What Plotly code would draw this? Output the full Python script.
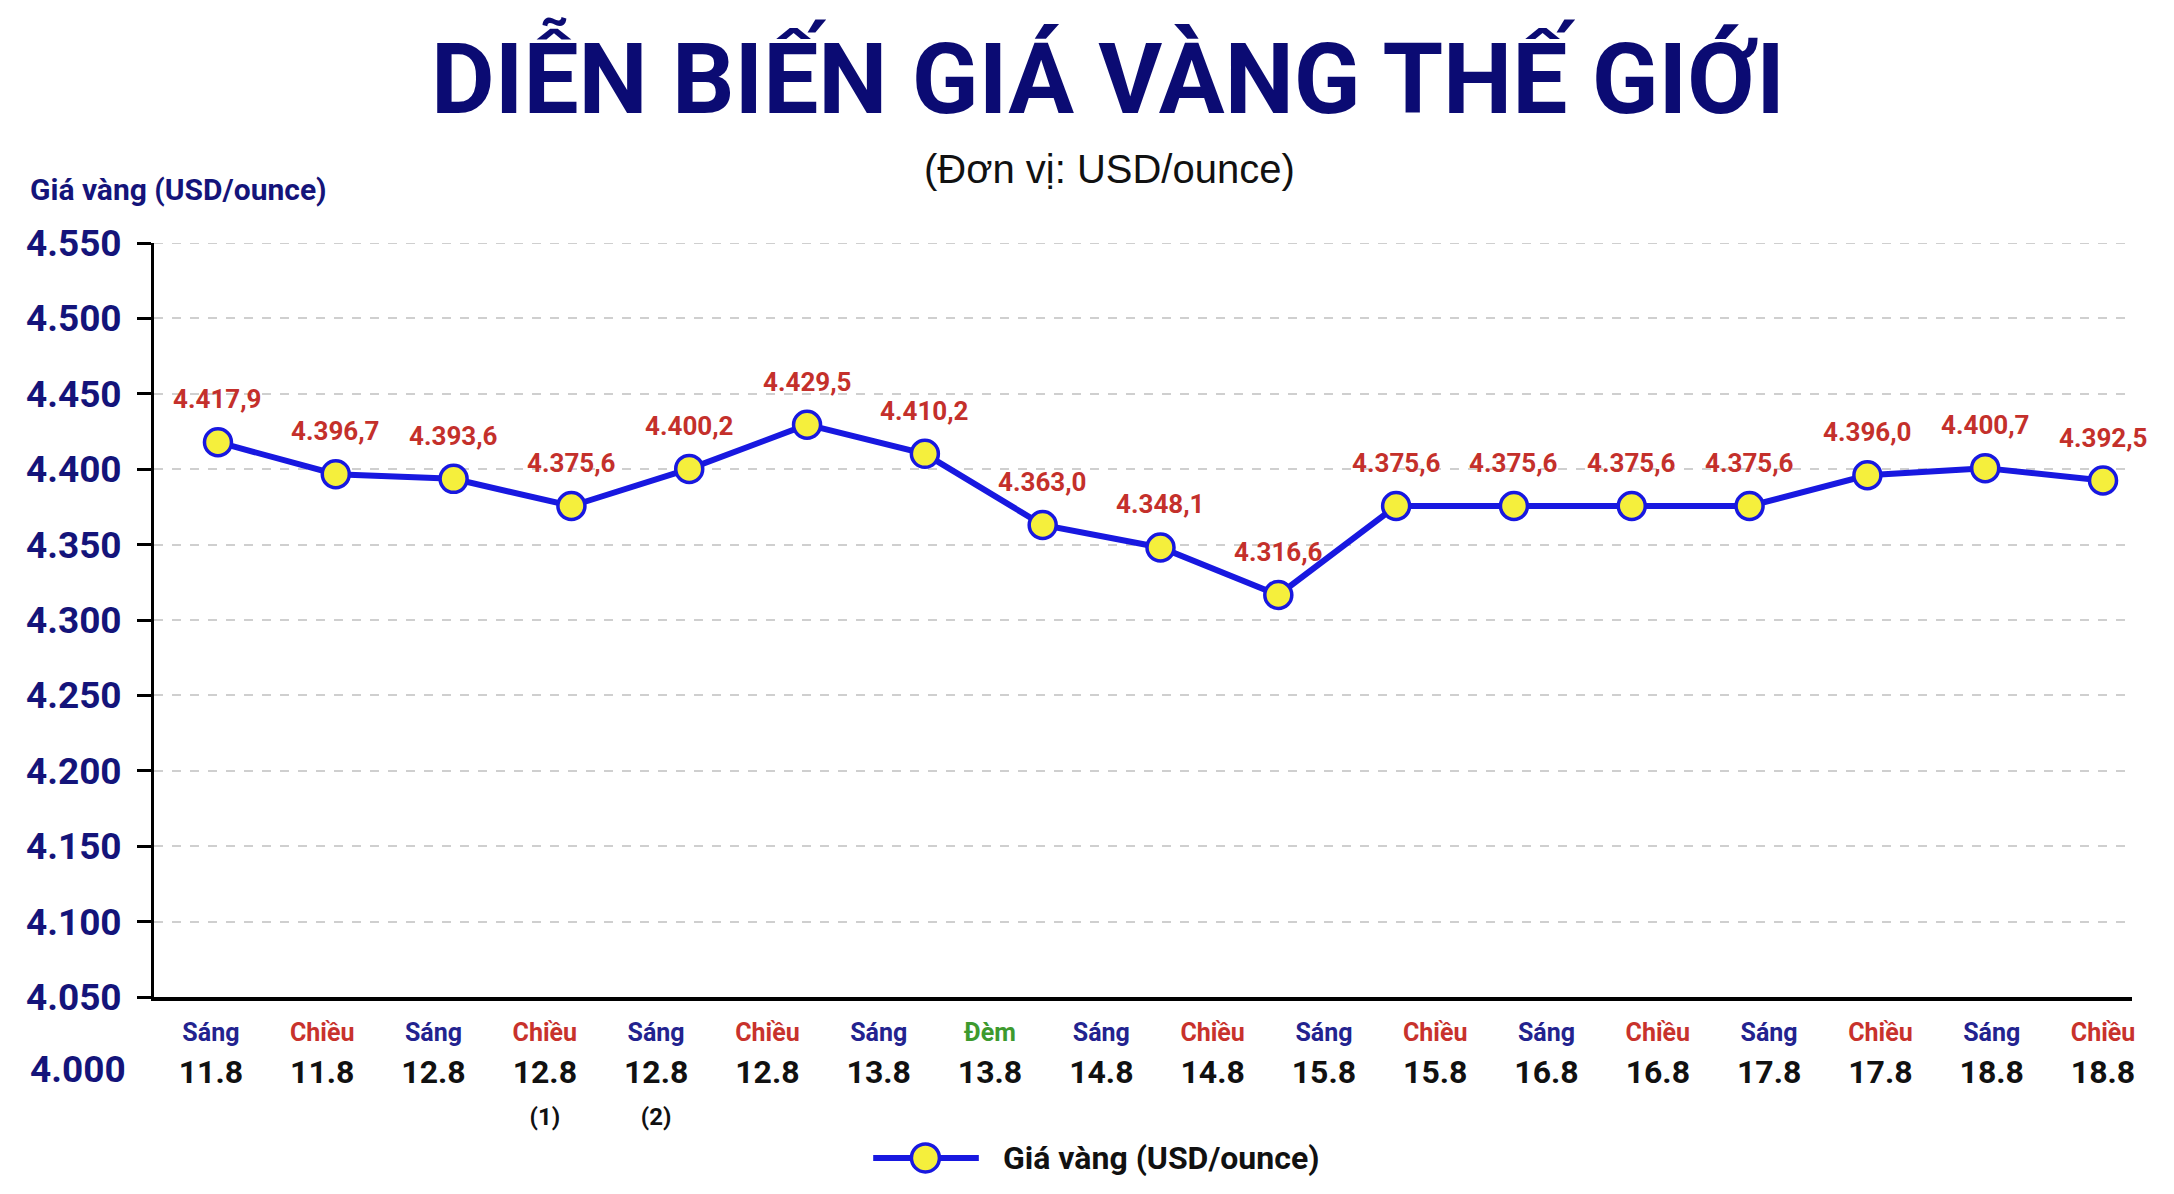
import plotly.graph_objects as go

# sessions (x-axis labels)
sessions = ["Sáng", "Chiều", "Sáng", "Chiều", "Sáng", "Chiều", "Sáng", "Đèm", "Sáng",
            "Chiều", "Sáng", "Chiều", "Sáng", "Chiều", "Sáng", "Chiều", "Sáng", "Chiều"]
dates = ["11.8", "11.8", "12.8", "12.8", "12.8", "12.8", "13.8", "13.8", "14.8",
         "14.8", "15.8", "15.8", "16.8", "16.8", "17.8", "17.8", "18.8", "18.8"]
notes = ["", "", "", "(1)", "(2)", "", "", "", "", "", "", "", "", "", "", "", "", ""]

# gia vang (USD/ounce)
prices = [4417.9, 4396.7, 4393.6, 4375.6, 4400.2, 4429.5, 4410.2, 4363.0, 4348.1,
          4316.6, 4375.6, 4375.6, 4375.6, 4375.6, 4396.0, 4400.7, 4392.5]

y_ticks = [4050, 4100, 4150, 4200, 4250, 4300, 4350, 4400, 4450, 4500, 4550]

FONT = "Roboto, DejaVu Sans Condensed, sans-serif"
NAVY = "#14147a"
RED = "#c4302b"
BLUE = "#1818e0"
YELLOW = "#f5ef3c"
GRID = "#cfcfcf"
session_colors = {"Sáng": "#23238f", "Chiều": "#c8322c", "Đèm": "#3d9a2e"}


def vn_num(v, dec=1):
    s = f"{v:,.{dec}f}"
    return s.replace(",", "X").replace(".", ",").replace("X", ".")


xs = list(range(len(prices)))
n_lab = len(sessions)
first_tick = -0.06
tickvals = [first_tick + i * (len(prices) - 1 - first_tick) / (n_lab - 1) for i in range(n_lab)]
ticktext = []
for s, d, n in zip(sessions, dates, notes):
    t = f"<span style='font-size:25px;color:{session_colors[s]}'><b>{s}</b></span><br><b>{d}</b>"
    if n:
        t += f"<br><span style='font-size:24px'><b>{n}</b></span>"
    ticktext.append(t)

fig = go.Figure()
fig.add_trace(go.Scatter(
    x=xs, y=prices, mode="lines+markers",
    line=dict(color=BLUE, width=6),
    marker=dict(size=27, color=YELLOW, line=dict(color=BLUE, width=3.5)),
    showlegend=False,
))

# nhan gia tri
for x, v in zip(xs, prices):
    fig.add_annotation(x=x, y=v, text=f"<b>{vn_num(v)}</b>", showarrow=False,
                       xanchor="center", yanchor="middle",
                       yshift=43, font=dict(family=FONT, size=26, color=RED))

# duong luoi tren cung (plotly an luoi o mep tren)
fig.add_shape(type="line", xref="paper", yref="y", x0=0, x1=1, y0=y_ticks[-1], y1=y_ticks[-1],
              line=dict(color=GRID, width=2, dash="dash"), layer="below")

# 4.000 ben duoi truc
fig.add_annotation(xref="paper", yref="paper", x=0, y=-0.0955, xanchor="right", yanchor="middle",
                   xshift=-26, text="<b>4.000</b>", showarrow=False,
                   font=dict(family=FONT, size=37, color=NAVY))

# chu thich thu cong
LEG_Y = -0.2135
fig.add_shape(type="line", xref="paper", yref="paper", x0=0.3636, x1=0.417, y0=LEG_Y, y1=LEG_Y,
              line=dict(color=BLUE, width=6))
fig.add_shape(type="circle", xref="paper", yref="paper", xsizemode="pixel", ysizemode="pixel",
              xanchor=0.390, yanchor=LEG_Y, x0=-14, x1=14, y0=-14, y1=14,
              fillcolor=YELLOW, line=dict(color=BLUE, width=3.5))
fig.add_annotation(xref="paper", yref="paper", x=0.428, y=LEG_Y, xanchor="left", yanchor="middle",
                   text="<b>Giá vàng (USD/ounce)</b>", showarrow=False,
                   font=dict(family=FONT, size=32, color="#111111"))

fig.add_annotation(xref="paper", yref="paper", x=-0.0637, y=1.0716, xanchor="left", yanchor="middle",
                   text="<b>Giá vàng (USD/ounce)</b>", showarrow=False,
                   font=dict(family=FONT, size=30, color=NAVY))
fig.add_annotation(xref="paper", yref="paper", x=0.483, y=1.098, xanchor="center", yanchor="middle",
                   text="(Đơn vị: USD/ounce)", showarrow=False,
                   font=dict(family="Liberation Sans, Arial, sans-serif", size=40, color="#111111"))

fig.update_layout(
    width=2158, height=1178,
    paper_bgcolor="white", plot_bgcolor="white",
    margin=dict(l=146, r=34, t=235, b=189, autoexpand=False),
    title=dict(text="<b>DIỄN BIẾN GIÁ VÀNG THẾ GIỚI</b>", x=0.5097, xanchor="center",
               y=0.9397, yanchor="middle",
               font=dict(family=FONT, size=98, color="#0b0b73")),
    font=dict(family=FONT),
)
fig.update_xaxes(
    range=[-0.543, 16.246], tickmode="array", tickvals=tickvals, ticktext=ticktext,
    tickfont=dict(family=FONT, size=32, color="#111111"),
    showgrid=False, zeroline=False,
    showline=True, linecolor="black", linewidth=4, ticks="", ticklabelstandoff=2,
)
fig.update_yaxes(
    range=[4050, 4550], tickmode="array", tickvals=y_ticks,
    ticktext=[f"<b>{vn_num(v, 0)}</b>" for v in y_ticks],
    tickfont=dict(family=FONT, size=37, color=NAVY), ticklabelstandoff=8,
    showgrid=True, gridcolor=GRID, gridwidth=2, griddash="dash",
    showline=True, linecolor="black", linewidth=3,
    ticks="outside", ticklen=14, tickwidth=3, tickcolor="black", zeroline=False,
)

fig.write_html("out.html")
